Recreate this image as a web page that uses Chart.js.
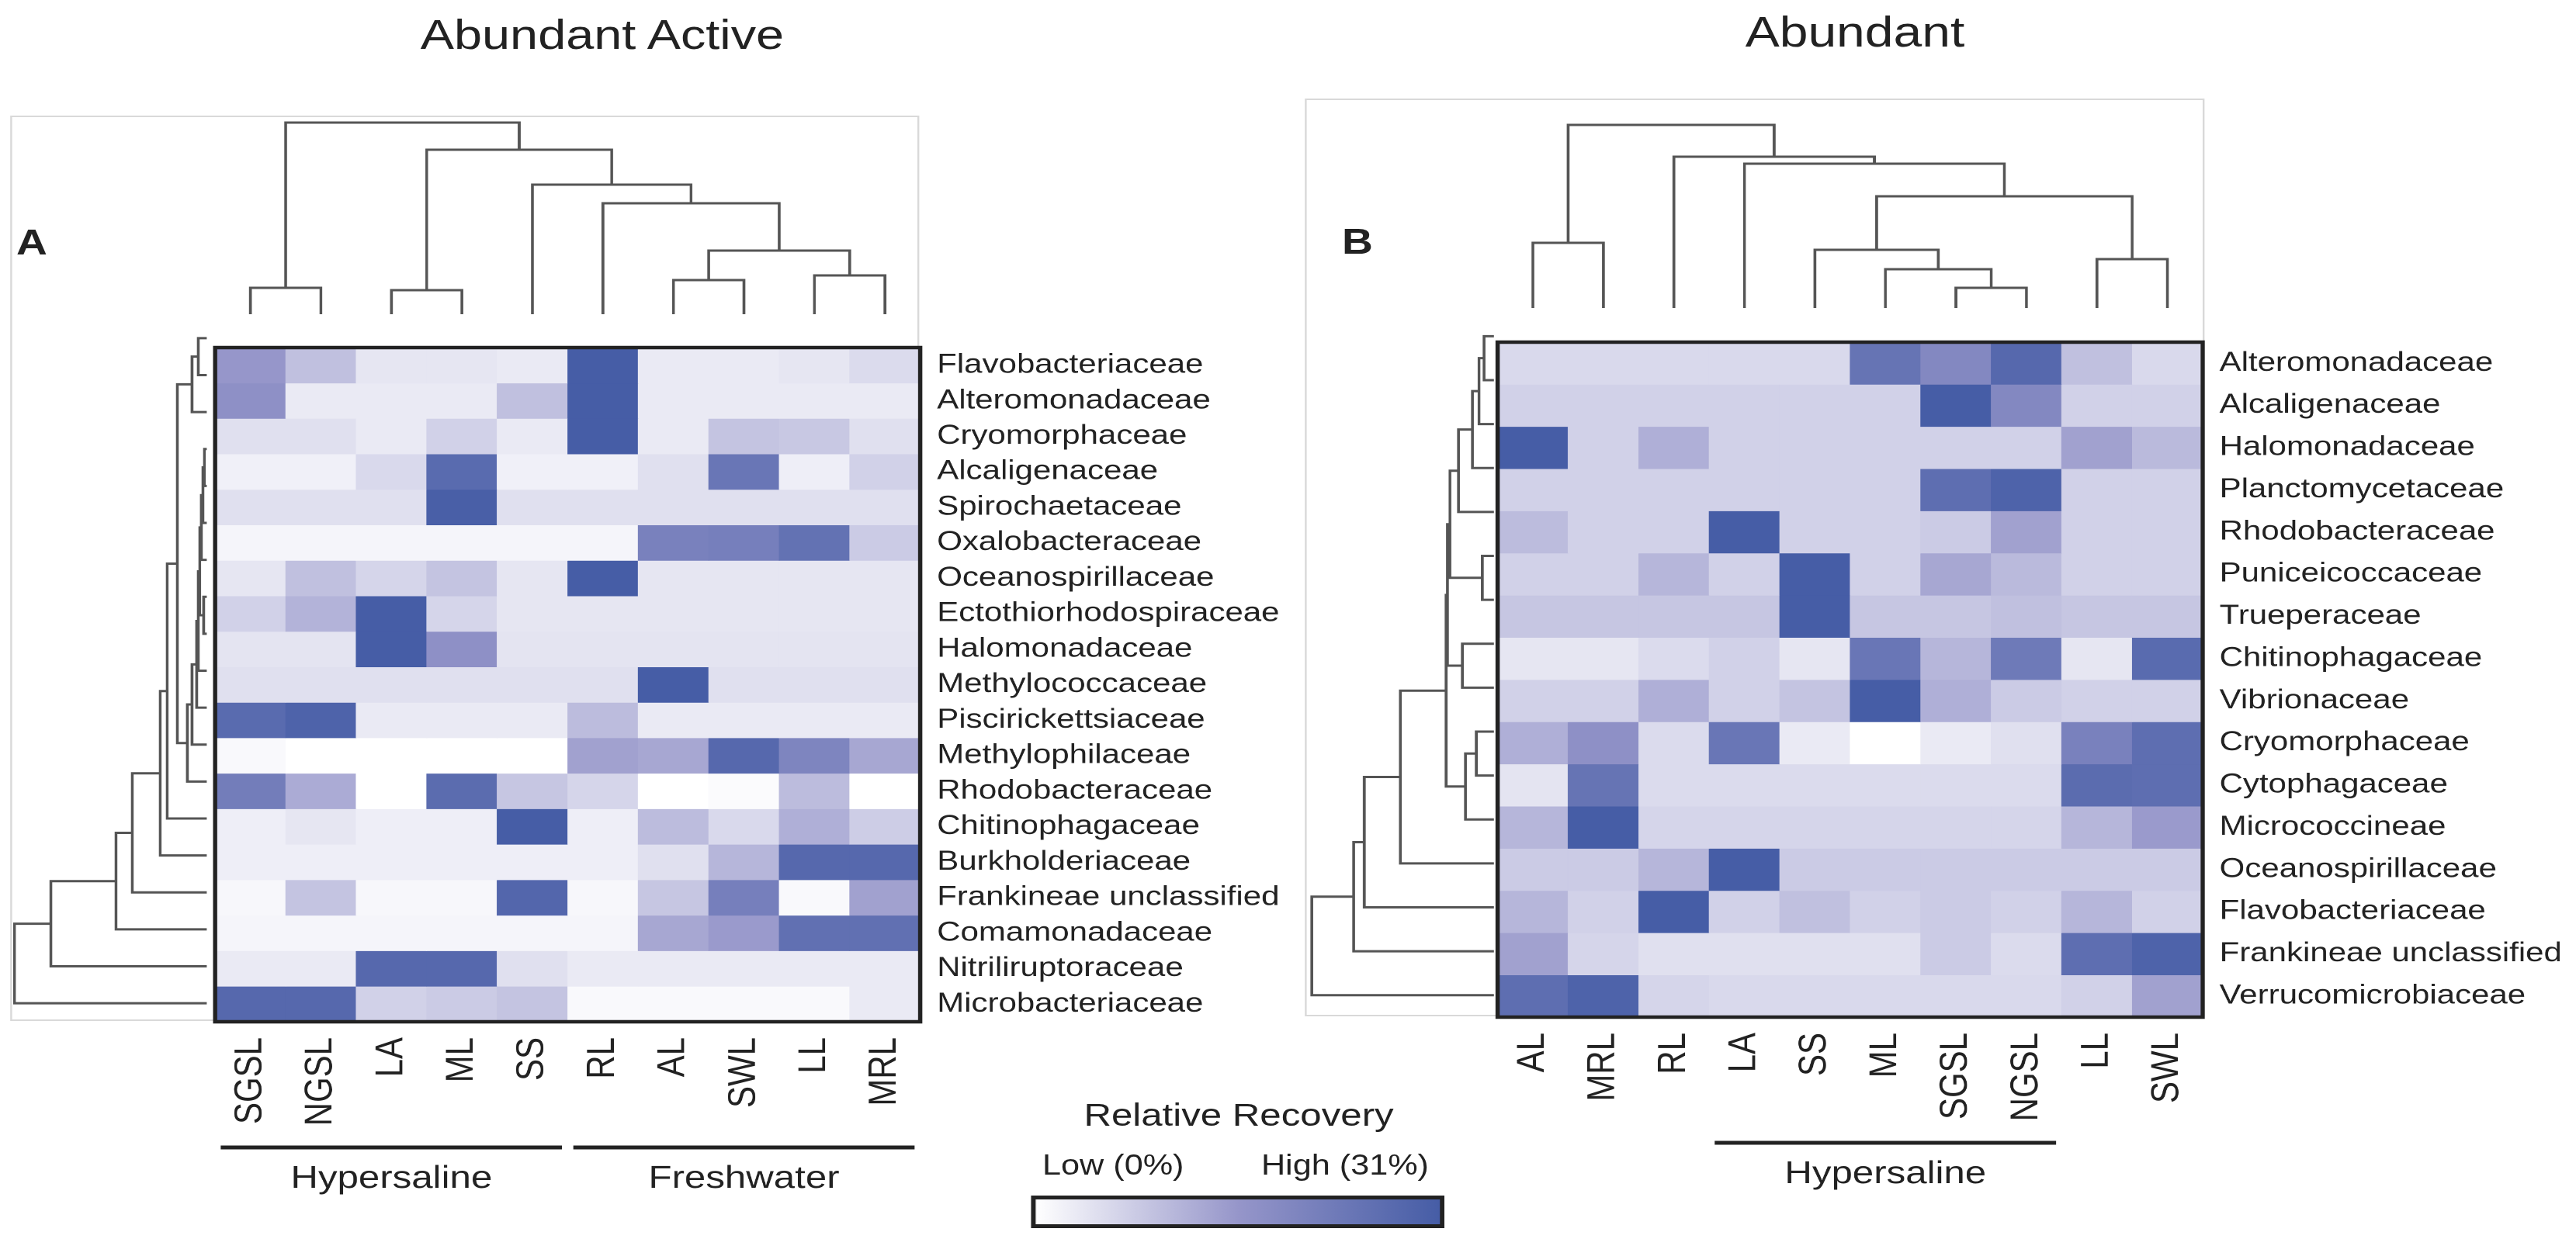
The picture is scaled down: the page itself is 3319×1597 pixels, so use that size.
<!DOCTYPE html>
<html>
<head>
<meta charset="utf-8">
<title>Abundant Active / Abundant heatmaps</title>
<script src="https://cdn.jsdelivr.net/npm/chart.js@4.4.1/dist/chart.umd.min.js"></script>
<style>
  html, body { margin: 0; padding: 0; background: #fff; overflow: hidden; }
  #page { position: absolute; left: 0; top: 0; height: 1597px; transform-origin: 0 0;
          font-family: "Liberation Sans", Arial, Helvetica, sans-serif; color: #222; }
  .box { position: absolute; border: 2px solid #d9d9d9; box-sizing: border-box; }
  .cv { position: absolute; }
  .txt { position: absolute; white-space: nowrap; line-height: 1; }
  #colorbar { position: absolute; box-sizing: border-box; border: 5px solid #222; }
</style>
</head>
<body>
<div id="page"></div>

<script>
// ---- Panel A: abundant active ----
const colsA = ['SGSL', 'NGSL', 'LA', 'ML', 'SS', 'RL', 'AL', 'SWL', 'LL', 'MRL'];
const rowsA = [
    'Flavobacteriaceae', 'Alteromonadaceae', 'Cryomorphaceae', 'Alcaligenaceae',
    'Spirochaetaceae', 'Oxalobacteraceae', 'Oceanospirillaceae', 'Ectothiorhodospiraceae',
    'Halomonadaceae', 'Methylococcaceae', 'Piscirickettsiaceae', 'Methylophilaceae',
    'Rhodobacteraceae', 'Chitinophagaceae', 'Burkholderiaceae', 'Frankineae unclassified',
    'Comamonadaceae', 'Nitriliruptoraceae', 'Microbacteriaceae'
];
// relative recovery, 0 = low, 1 = high
const valuesA = [
    [0.50, 0.30, 0.12, 0.12, 0.10, 1.00, 0.10, 0.10, 0.12, 0.17],
    [0.55, 0.10, 0.10, 0.10, 0.30, 1.00, 0.10, 0.10, 0.10, 0.10],
    [0.15, 0.15, 0.10, 0.22, 0.10, 1.00, 0.10, 0.28, 0.26, 0.15],
    [0.07, 0.07, 0.18, 0.88, 0.07, 0.07, 0.15, 0.78, 0.08, 0.22],
    [0.15, 0.15, 0.15, 0.98, 0.15, 0.15, 0.15, 0.15, 0.15, 0.15],
    [0.05, 0.05, 0.05, 0.05, 0.05, 0.05, 0.68, 0.70, 0.82, 0.25],
    [0.12, 0.30, 0.20, 0.28, 0.12, 1.00, 0.12, 0.12, 0.12, 0.12],
    [0.22, 0.36, 1.00, 0.20, 0.12, 0.12, 0.12, 0.12, 0.12, 0.12],
    [0.13, 0.13, 1.00, 0.55, 0.13, 0.13, 0.13, 0.13, 0.13, 0.13],
    [0.15, 0.15, 0.15, 0.15, 0.15, 0.15, 1.00, 0.15, 0.15, 0.15],
    [0.88, 0.95, 0.10, 0.10, 0.10, 0.32, 0.10, 0.10, 0.10, 0.10],
    [0.03, 0.00, 0.00, 0.00, 0.00, 0.45, 0.42, 0.90, 0.65, 0.42],
    [0.72, 0.40, 0.00, 0.87, 0.27, 0.20, 0.00, 0.02, 0.32, 0.00],
    [0.08, 0.12, 0.08, 0.08, 1.00, 0.08, 0.32, 0.18, 0.38, 0.24],
    [0.08, 0.08, 0.08, 0.08, 0.08, 0.08, 0.15, 0.35, 0.90, 0.90],
    [0.04, 0.28, 0.04, 0.04, 0.92, 0.04, 0.27, 0.70, 0.03, 0.45],
    [0.05, 0.05, 0.05, 0.05, 0.05, 0.05, 0.42, 0.48, 0.83, 0.83],
    [0.10, 0.10, 0.90, 0.90, 0.15, 0.10, 0.10, 0.10, 0.10, 0.10],
    [0.90, 0.90, 0.22, 0.25, 0.28, 0.03, 0.03, 0.03, 0.03, 0.10]
];
// dendrogram merges: [childA, childB, height]; ids >= leaf count are earlier merges
const colLinksA = [
    [0, 1, 34], [2, 3, 31], [6, 7, 44], [8, 9, 50], [12, 13, 82],
    [5, 14, 143], [4, 15, 167], [11, 16, 212], [10, 17, 247]
];
const rowLinksA = [
    [0, 1, 11], [19, 2, 19], [3, 4, 3], [21, 5, 5], [22, 6, 7], [7, 8, 4],
    [23, 24, 9], [25, 9, 11], [26, 10, 13], [27, 11, 19], [28, 12, 25],
    [20, 29, 38], [30, 13, 51], [31, 14, 60], [32, 15, 96], [33, 16, 117],
    [34, 17, 201], [35, 18, 248]
];
const groupsA = [
    { label: 'Hypersaline', from: 0, to: 4 },
    { label: 'Freshwater', from: 5, to: 9 }
];

// ---- Panel B: abundant ----
const colsB = ['AL', 'MRL', 'RL', 'LA', 'SS', 'ML', 'SGSL', 'NGSL', 'LL', 'SWL'];
const rowsB = [
    'Alteromonadaceae', 'Alcaligenaceae', 'Halomonadaceae', 'Planctomycetaceae',
    'Rhodobacteraceae', 'Puniceicoccaceae', 'Trueperaceae', 'Chitinophagaceae',
    'Vibrionaceae', 'Cryomorphaceae', 'Cytophagaceae', 'Micrococcineae',
    'Oceanospirillaceae', 'Flavobacteriaceae', 'Frankineae unclassified', 'Verrucomicrobiaceae'
];
const valuesB = [
    [0.18, 0.18, 0.18, 0.18, 0.18, 0.80, 0.62, 0.90, 0.30, 0.18],
    [0.22, 0.22, 0.22, 0.22, 0.22, 0.22, 1.00, 0.62, 0.22, 0.22],
    [1.00, 0.22, 0.38, 0.22, 0.22, 0.22, 0.22, 0.22, 0.45, 0.33],
    [0.22, 0.22, 0.22, 0.22, 0.22, 0.22, 0.85, 0.95, 0.22, 0.22],
    [0.32, 0.22, 0.22, 1.00, 0.22, 0.22, 0.25, 0.45, 0.22, 0.22],
    [0.22, 0.22, 0.35, 0.22, 1.00, 0.22, 0.42, 0.33, 0.22, 0.22],
    [0.27, 0.27, 0.27, 0.27, 1.00, 0.27, 0.27, 0.30, 0.27, 0.27],
    [0.12, 0.12, 0.17, 0.22, 0.12, 0.78, 0.35, 0.75, 0.12, 0.88],
    [0.22, 0.22, 0.38, 0.22, 0.28, 1.00, 0.38, 0.25, 0.22, 0.22],
    [0.38, 0.55, 0.17, 0.78, 0.10, 0.00, 0.10, 0.15, 0.68, 0.85],
    [0.13, 0.80, 0.17, 0.17, 0.17, 0.17, 0.17, 0.17, 0.87, 0.85],
    [0.35, 1.00, 0.20, 0.20, 0.20, 0.20, 0.20, 0.20, 0.35, 0.48],
    [0.25, 0.25, 0.35, 1.00, 0.25, 0.25, 0.25, 0.25, 0.25, 0.25],
    [0.35, 0.22, 1.00, 0.22, 0.30, 0.22, 0.25, 0.22, 0.35, 0.22],
    [0.45, 0.20, 0.15, 0.15, 0.15, 0.15, 0.25, 0.17, 0.85, 0.95],
    [0.85, 0.95, 0.20, 0.18, 0.18, 0.18, 0.18, 0.18, 0.22, 0.45]
];
const colLinksB = [
    [0, 1, 84], [6, 7, 26], [5, 11, 50], [4, 12, 75], [8, 9, 63],
    [13, 14, 144], [3, 15, 186], [2, 16, 195], [10, 17, 236]
];
const rowLinksB = [
    [0, 1, 12.7], [16, 2, 19.3], [17, 3, 27.7], [18, 4, 45.7], [5, 6, 15],
    [19, 20, 56.7], [7, 8, 40.7], [21, 22, 60], [9, 10, 22.7], [24, 11, 36.7],
    [23, 25, 61.7], [26, 12, 120.7], [27, 13, 167.3], [28, 14, 181], [29, 15, 235]
];
const groupsB = [
    { label: 'Hypersaline', from: 3, to: 7 }
];

// ---- shared look ----
// the reference figure is stretched sideways; lay out unstretched and widen the page
const S = 1.2;
const PAGE_W = 3319;
const FONT = '"Liberation Sans", Arial, Helvetica, sans-serif';
const INK = '#222';
const LINE = '#555';
const COLOR_STOPS = [[0, [255, 255, 255]], [0.5, [150, 150, 202]], [1, [70, 93, 166]]];

Chart.defaults.font.family = FONT;
Chart.defaults.color = INK;

const page = document.getElementById('page');
page.style.width = (PAGE_W / S) + 'px';
page.style.transform = `scaleX(${S})`;

function heatColor(v) {
    for (let i = 1; i < COLOR_STOPS.length; i++) {
        const [p1, c1] = COLOR_STOPS[i];
        const [p0, c0] = COLOR_STOPS[i - 1];
        if (v <= p1) {
            const t = (v - p0) / (p1 - p0);
            const c = c0.map((a, k) => Math.round(a + (c1[k] - a) * t));
            return `rgb(${c[0]}, ${c[1]}, ${c[2]})`;
        }
    }
    return `rgb(${COLOR_STOPS[COLOR_STOPS.length - 1][1].join(',')})`;
}

// x and width given in final (stretched) pixels
function addBlock(tag, cls, x, y, w, h) {
    const e = document.createElement(tag);
    e.className = cls;
    e.style.left = (x / S) + 'px';
    e.style.top = y + 'px';
    e.style.width = (w / S) + 'px';
    e.style.height = h + 'px';
    page.appendChild(e);
    return e;
}

function addCanvas(x, y, logicalW, h) {
    const c = document.createElement('canvas');
    c.className = 'cv';
    c.width = logicalW;
    c.height = h;
    c.style.left = (x / S) + 'px';
    c.style.top = y + 'px';
    c.style.width = logicalW + 'px';
    c.style.height = h + 'px';
    page.appendChild(c);
    return c;
}

// thick frame round the heat cells
const framePlugin = {
    id: 'frame',
    afterDraw(chart) {
        const { ctx, chartArea: a } = chart;
        ctx.save();
        ctx.strokeStyle = INK;
        ctx.lineWidth = 4.5;
        ctx.strokeRect(a.left, a.top, a.right - a.left, a.bottom - a.top);
        ctx.restore();
    }
};

// underline + name for column groups, placed with the x scale
const groupPlugin = {
    id: 'groups',
    afterDraw(chart, args, opts) {
        const { ctx, chartArea: a } = chart;
        const x = chart.scales.x;
        const half = (x.getPixelForValue(1) - x.getPixelForValue(0)) / 2;
        ctx.save();
        (opts.items || []).forEach(g => {
            const x0 = x.getPixelForValue(g.from) - half + 6;
            const x1 = x.getPixelForValue(g.to) + half - 6;
            ctx.strokeStyle = INK;
            ctx.lineWidth = 5;
            ctx.beginPath();
            ctx.moveTo(x0, a.bottom + opts.lineOffset);
            ctx.lineTo(x1, a.bottom + opts.lineOffset);
            ctx.stroke();
            ctx.fillStyle = INK;
            ctx.font = `41px ${FONT}`;
            ctx.textAlign = 'center';
            ctx.textBaseline = 'alphabetic';
            ctx.fillText(g.label, (x0 + x1) / 2, a.bottom + opts.textOffset);
        });
        ctx.restore();
    }
};

// left/top/width/height: where the cells sit, in final pixels
function makeHeatmap(cols, rows, values, groups, left, top, width, height, labelW, bottomPad) {
    const pad = 3;
    const axisH = 150;
    const canvas = addCanvas(left - pad * S, top - pad,
        pad + Math.round(width / S) + labelW, pad + height + axisH + bottomPad);

    const datasets = rows.map((name, r) => ({
        label: name,
        data: cols.map(() => 1),
        backgroundColor: values[r].map(heatColor),
        borderWidth: 0,
        barPercentage: 1,
        categoryPercentage: 1
    }));

    return new Chart(canvas, {
        type: 'bar',
        data: { labels: cols, datasets: datasets },
        options: {
            responsive: false,
            animation: false,
            devicePixelRatio: 2,
            events: [],
            layout: { padding: { left: pad, top: pad, right: 0, bottom: bottomPad } },
            plugins: {
                legend: { display: false },
                tooltip: { enabled: false },
                groups: { items: groups, lineOffset: 162, textOffset: 214 }
            },
            scales: {
                x: {
                    stacked: true,
                    grid: { display: false, drawTicks: false },
                    border: { display: false },
                    ticks: {
                        font: { size: 42 },
                        color: INK,
                        minRotation: 90,
                        maxRotation: 90,
                        autoSkip: false,
                        padding: 20
                    },
                    afterFit: s => { s.height = axisH; }
                },
                y: {
                    stacked: true,
                    reverse: true,
                    min: 0,
                    max: rows.length,
                    display: false
                },
                rowNames: {
                    type: 'category',
                    axis: 'y',
                    labels: rows,
                    position: 'right',
                    offset: true,
                    grid: { display: false, drawTicks: false },
                    border: { display: false },
                    ticks: { font: { size: 35 }, color: INK, autoSkip: false, padding: 18 },
                    afterFit: s => { s.width = labelW; }
                }
            }
        },
        plugins: [framePlugin, groupPlugin]
    });
}

// turn merge list into U-shaped links: [[pos, height] x 4]
function linkShapes(links, nLeaves) {
    const pos = [];
    const height = [];
    for (let i = 0; i < nLeaves; i++) { pos[i] = i; height[i] = 0; }
    return links.map(([a, b, h], k) => {
        pos[nLeaves + k] = (pos[a] + pos[b]) / 2;
        height[nLeaves + k] = h;
        return [[pos[a], height[a]], [pos[a], h], [pos[b], h], [pos[b], height[b]]];
    });
}

function makeDendrogram(links, nLeaves, horizontal, span, left, top, width, height) {
    const canvas = addCanvas(left, top, Math.round(width / S), height);
    const datasets = linkShapes(links, nLeaves).map(s => ({
        data: s.map(([p, h]) => horizontal ? { x: h, y: p } : { x: p, y: h }),
        showLine: true,
        borderColor: LINE,
        borderWidth: 3,
        pointRadius: 0,
        tension: 0,
        clip: false
    }));
    const posAxis = { type: 'linear', min: -0.5, max: nLeaves - 0.5, display: false };
    const hAxis = { type: 'linear', min: 0, max: span, display: false };

    return new Chart(canvas, {
        type: 'scatter',
        data: { datasets: datasets },
        options: {
            responsive: false,
            animation: false,
            devicePixelRatio: 2,
            events: [],
            layout: { padding: 0 },
            plugins: { legend: { display: false }, tooltip: { enabled: false } },
            scales: horizontal
                ? { x: { ...hAxis, reverse: true }, y: { ...posAxis, reverse: true } }
                : { x: posAxis, y: hAxis }
        }
    });
}

// panel frames
addBlock('div', 'box', 13, 149, 1171, 1167);
addBlock('div', 'box', 1681, 127, 1160, 1183);

makeDendrogram(colLinksA, colsA.length, false, 255, 277, 150, 908, 255);
makeDendrogram(rowLinksA, rowsA.length, true, 257, 10, 412, 257, 905);
makeHeatmap(colsA, rowsA, valuesA, groupsA, 277, 412, 908, 905, 400, 82);

makeDendrogram(colLinksB, colsB.length, false, 257, 1930, 140, 908, 257);
makeDendrogram(rowLinksB, rowsB.length, true, 244, 1681, 405, 244, 906);
makeHeatmap(colsB, rowsB, valuesB, groupsB, 1930, 405, 908, 906, 392, 80);

// colour key uses the same ramp as the cells
const bar = addBlock('div', '', 1328, 1541, 533, 42);
bar.id = 'colorbar';
bar.style.background =
    'linear-gradient(to right, ' + COLOR_STOPS.map(([p]) => `${heatColor(p)} ${p * 100}%`).join(', ') + ')';

// titles, panel letters and key text
function addText(str, x, baseline, size, align, bold) {
    const d = document.createElement('div');
    d.className = 'txt';
    d.textContent = str;
    d.style.fontSize = size + 'px';
    d.style.top = (baseline - 0.847 * size) + 'px';
    if (bold) d.style.fontWeight = 'bold';
    if (align === 'center') {
        d.style.left = (x / S) + 'px';
        d.style.transform = 'translateX(-50%)';
    } else if (align === 'right') {
        d.style.right = ((PAGE_W - x) / S) + 'px';
    } else {
        d.style.left = (x / S) + 'px';
    }
    page.appendChild(d);
}

addText('Abundant Active', 776, 63, 54, 'center');
addText('Abundant', 2390, 61, 55, 'center');
addText('A', 21, 328, 46, 'left', true);
addText('B', 1729, 327, 46, 'left', true);
addText('Relative Recovery', 1596, 1452, 41, 'center');
addText('Low (0%)', 1343, 1514, 36, 'left');
addText('High (31%)', 1841, 1514, 36, 'right');
</script>
</body>
</html>
